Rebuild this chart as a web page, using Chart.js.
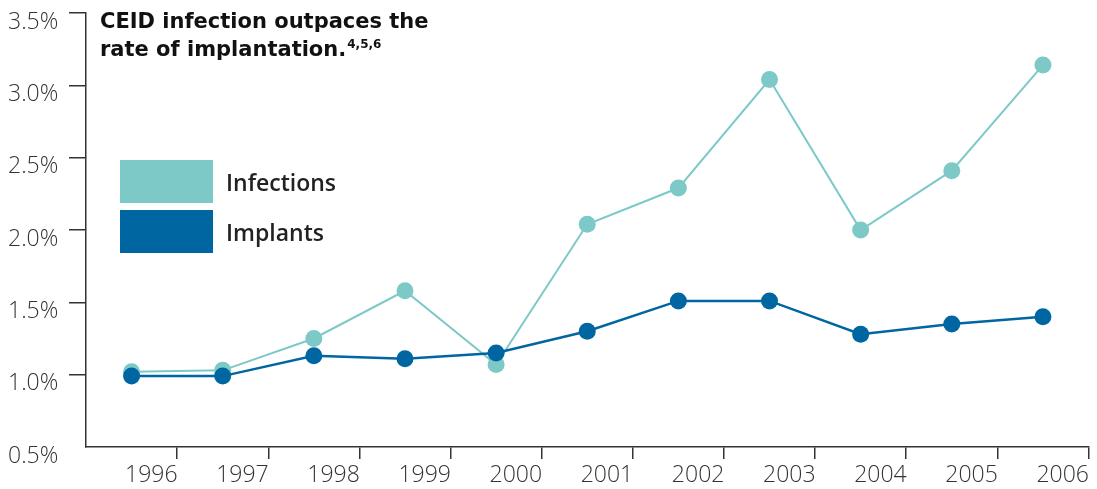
<!DOCTYPE html>
<html>
<head>
<meta charset="utf-8">
<script src="https://cdn.jsdelivr.net/npm/chart.js@4.4.1/dist/chart.umd.min.js"></script>
<style>
body { margin: 0; background: #fff; }
.wrap { position: relative; width: 1097px; height: 489px; }
.title {
    position: absolute; left: 100px; top: 7px;
    font-family: "DejaVu Sans", sans-serif; font-weight: 700; font-size: 21px;
    line-height: 28px; color: #111; letter-spacing: 0px;
}
.title sup { font-size: 12px; position: relative; top: 3px; vertical-align: top; line-height: 1; margin-left: 1px; }
.legend { position: absolute; left: 120px; top: 160px; }
.legend .row { display: flex; align-items: center; height: 43px; margin-bottom: 7px; }
.legend .box { width: 93px; height: 43px; margin-right: 13px; }
.legend .lbl { font-family: "Open Sans", sans-serif; font-weight: 600; font-size: 23px; color: #222; }
</style>
</head>
<body>
<div class="wrap">
    <canvas id="chart" width="1097" height="489"></canvas>
    <div class="title">CEID infection outpaces the<br>rate of implantation.<sup>4,5,6</sup></div>
    <div class="legend" id="legend"></div>
</div>
<script>
const years = ["1996", "1997", "1998", "1999", "2000", "2001", "2002", "2003", "2004", "2005", "2006"];
const infections = [1.02, 1.03, 1.25, 1.58, 1.07, 2.04, 2.29, 3.04, 2.00, 2.41, 3.14];
const implants = [0.99, 0.99, 1.13, 1.11, 1.15, 1.30, 1.51, 1.51, 1.28, 1.35, 1.40];
const yTicks = [0.5, 1.0, 1.5, 2.0, 2.5, 3.0, 3.5];

const teal = "#7cc9c8";
const blue = "#0066a1";
const axisColor = "#333333";

// legend drawn as html, infections first like the picture
const legendItems = [
    { label: "Infections", color: teal },
    { label: "Implants", color: blue }
];
const legend = document.getElementById("legend");
legendItems.forEach(function (item) {
    const row = document.createElement("div");
    row.className = "row";
    row.innerHTML = '<div class="box" style="background:' + item.color + '"></div><div class="lbl">' + item.label + '</div>';
    legend.appendChild(row);
});

const ctx = document.getElementById("chart").getContext("2d");
const chart = new Chart(ctx, {
    type: 'line',
    data: {
        labels: years,
        datasets: [{
            label: 'Implants',
            data: implants,
            borderColor: blue,
            backgroundColor: blue,
            borderWidth: 2.5,
            pointRadius: 8.5,
            pointBorderWidth: 0,
            pointBackgroundColor: blue,
            tension: 0
        }, {
            label: 'Infections',
            data: infections,
            borderColor: teal,
            backgroundColor: teal,
            borderWidth: 2,
            pointRadius: 8.5,
            pointBorderWidth: 0,
            pointBackgroundColor: teal,
            tension: 0
        }]
    },
    options: {
        responsive: false,
        animation: false,
        layout: { padding: { left: 8, right: 6, top: 13, bottom: 0 } },
        plugins: {
            legend: { display: false },
            tooltip: { enabled: false }
        },
        scales: {
            x: {
                type: 'category',
                offset: true,
                afterFit: function (scale) {
                    scale.height = 42;
                    scale.paddingLeft = 0;
                    scale.paddingRight = 0;
                },
                border: { display: true, color: axisColor, width: 1.5 },
                grid: {
                    offset: true,
                    drawOnChartArea: false,
                    drawTicks: true,
                    tickLength: 12,
                    lineWidth: 1.5,
                    color: function (c) { return c.index === 0 ? 'rgba(0,0,0,0)' : axisColor; }
                },
                ticks: {
                    align: 'end',
                    labelOffset: 46,
                    padding: 3,
                    color: axisColor,
                    maxRotation: 0,
                    autoSkip: false,
                    font: { family: "Open Sans", size: 23, weight: 300 }
                }
            },
            y: {
                min: 0.5,
                max: 3.5,
                afterBuildTicks: function (scale) {
                    scale.ticks = yTicks.map(function (v) { return { value: v }; });
                },
                afterFit: function (scale) {
                    scale.width = 78;
                    scale.paddingTop = 0;
                    scale.paddingBottom = 0;
                },
                border: { display: true, color: axisColor, width: 1.5 },
                grid: {
                    drawOnChartArea: false,
                    drawTicks: true,
                    tickLength: 17,
                    lineWidth: 1.5,
                    color: function (c) { return c.index === 0 ? 'rgba(0,0,0,0)' : axisColor; }
                },
                ticks: {
                    crossAlign: 'far',
                    labelOffset: 9,
                    padding: 6,
                    color: axisColor,
                    font: { family: "Open Sans", size: 23, weight: 300 },
                    callback: function (v) { return Number(v).toFixed(1) + '%'; }
                }
            }
        }
    }
});
</script>
</body>
</html>
